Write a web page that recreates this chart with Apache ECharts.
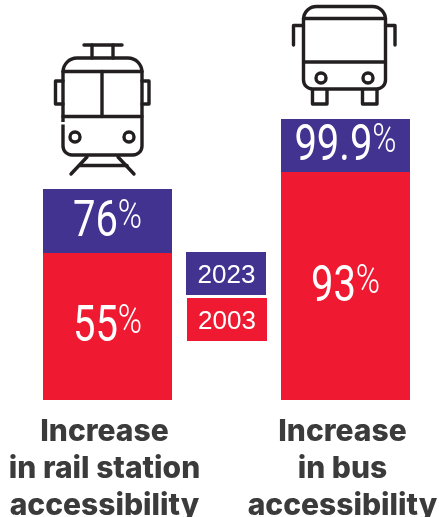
<!DOCTYPE html>
<html><head><meta charset="utf-8">
<style>html,body{margin:0;padding:0;background:#fff}#c{width:439px;height:517px}</style>
<script src="https://cdn.jsdelivr.net/npm/echarts@6/dist/echarts.min.js"></script></head>
<body><div id="c"></div>
<script>
// Each label is what the chart prints; bar segment sizes are read from the picture (the original is not to scale).
const categories = ["Increase\nin rail station\naccessibility", "Increase\nin bus\naccessibility"];
const seriesNames = ["2003", "2023"];
const labels2003 = ["55%", "93%"];
const labels2023 = ["76%", "99.9%"];
const segment2003 = [147, 228];
const segment2023 = [64, 53];
const RED = "#ef1a32", BLUE = "#41338f", INK = "#231f20";

const stroke = {stroke:INK,lineWidth:3.4,fill:"none",lineCap:"round",lineJoin:"round"};
const R=(x,y,w,h,r)=>({type:"rect",shape:{x,y,width:w,height:h,r:r||0},style:stroke,silent:true});
const L=(x1,y1,x2,y2)=>({type:"line",shape:{x1,y1,x2,y2},style:stroke,silent:true});
const C=(cx,cy,r)=>({type:"circle",shape:{cx,cy,r},style:stroke,silent:true});
const PL=(points)=>({type:"polyline",shape:{points},style:stroke,silent:true});

const tram=[
  L(84,45,122,45), L(92,45,92,58), L(113,45,113,58),
  R(63,58,79,97,[14,14,9,9]),
  {type:"line",shape:{x1:63,y1:122,x2:63,y2:124.5},style:{stroke:"#fff",lineWidth:5},silent:true},
  L(63,71.5,142,71.5), L(63,116.5,142,116.5), L(102,71.5,102,116.5),
  PL([[63,81],[55.5,81],[55.5,104],[63,104]]), PL([[142,81],[149,81],[149,104],[142,104]]),
  C(75,137,5), C(129,137,5),
  L(87,157,71,174), L(118,157,134,174), L(80,165.5,127,165.5)
];
const bus=[
  R(303.5,6.5,82,82.5,[13,13,9,9]),
  L(303.5,18.5,385.5,18.5), L(303.5,62,385.5,62),
  PL([[303.5,25.5],[293.5,25.5],[293.5,45]]), PL([[385.5,25.5],[395,25.5],[395,45]]),
  C(321,78,5), C(368,78,5),
  PL([[312.5,90],[312.5,104],[327,104],[327,90]]), PL([[362.5,90],[362.5,104],[377,104],[377,90]])
];
const key=[
  {type:"rect",shape:{x:186,y:252,width:80,height:43},style:{fill:BLUE},silent:true},
  {type:"rect",shape:{x:187,y:298,width:80,height:43},style:{fill:RED},silent:true},
  {type:"text",x:226.5,y:275.5,style:{text:seriesNames[1],fill:"#fff",font:"26px 'Liberation Sans'",textAlign:"center",textVerticalAlign:"middle"},silent:true},
  {type:"text",x:227,y:321.5,style:{text:seriesNames[0],fill:"#fff",font:"26px 'Liberation Sans'",textAlign:"center",textVerticalAlign:"middle"},silent:true}
];
// Percent texts: a custom series so they can be condensed horizontally.
function pctSeries(list, base, seg){
  return {type:"custom",silent:true,z:5,
    data:categories.map((c,i)=>[i,base[i],base[i]+seg[i]]),
    encode:{x:0,y:[1,2]},
    renderItem:(params,api)=>{
      const a=api.coord([api.value(0),api.value(1)]), b=api.coord([api.value(0),api.value(2)]);
      const s=list[params.dataIndex];
      return {type:"text",x:a[0],y:(a[1]+b[1])/2+2,scaleX:0.8,
        style:{text:"{n|"+s.slice(0,-1)+"}{p|%}",align:"center",verticalAlign:"middle",
          rich:{n:{font:"400 50px Roboto",fill:"#fff"},p:{font:"300 41px Roboto",fill:"#fff",padding:[0,0,11,0]}}}};
    }};
}
const chart=echarts.init(document.getElementById("c"),null,{renderer:"canvas"});
chart.setOption({
  animation:false, backgroundColor:"#fff",
  grid:{left:-11.5,width:476,top:100,bottom:117,outerBoundsMode:"none",containLabel:false},
  xAxis:{type:"category",data:categories,axisLine:{show:false},axisTick:{show:false},
    axisLabel:{interval:0,margin:13,fontFamily:"Inter",fontWeight:800,fontSize:30,lineHeight:37,color:"#3b3b3b",padding:[0,6,0,0],hideOverlap:false}},
  yAxis:{type:"value",min:0,max:300,show:false,splitLine:{show:false}},
  graphic:{elements:[...tram,...bus,...key]},
  series:[
    {name:seriesNames[0],type:"bar",stack:"a",barWidth:129,data:segment2003,itemStyle:{color:RED}},
    {name:seriesNames[1],type:"bar",stack:"a",barWidth:129,data:segment2023,itemStyle:{color:BLUE}},
    pctSeries(labels2003,segment2003.map(()=>0),segment2003),
    pctSeries(labels2023,segment2003,segment2023)
  ]
});
</script></body></html>
